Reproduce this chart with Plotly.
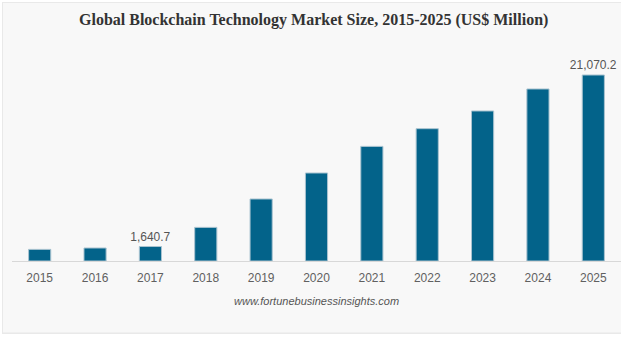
import plotly.graph_objects as go

years = ["2015", "2016", "2017", "2018", "2019", "2020", "2021", "2022", "2023", "2024", "2025"]
market_size = [1315, 1473, 1640.7, 3807, 7025, 9970, 12985, 14990, 16995, 19488, 21070.2]
labels = ["", "", "1,640.7", "", "", "", "", "", "", "", "21,070.2"]

W, H = 621, 337
ML, MR, MT, MB = 12, 0, 60, 76
PW, PH = W - ML - MR, H - MT - MB

def px_x(p):
    return (p - ML) / PW

def px_y(p):
    return (H - MB - p) / PH

fig = go.Figure()
fig.add_trace(go.Bar(
    x=years, y=market_size,
    marker=dict(color="#03638a", line=dict(color="#a9c3d0", width=1)),
    text=labels, textposition="outside", constraintext="none",
    textfont=dict(family="Liberation Sans, Arial", size=12, color="#555555"),
    cliponaxis=False, hoverinfo="x+y",
))

shapes = [
    dict(type="rect", xref="paper", yref="paper",
         x0=px_x(2), x1=px_x(640), y0=px_y(334), y1=px_y(2),
         fillcolor="#e9e9e9", line=dict(width=0), layer="below"),
    dict(type="rect", xref="paper", yref="paper",
         x0=px_x(3), x1=px_x(640), y0=px_y(332.5), y1=px_y(3),
         fillcolor="#f8f8f8", line=dict(width=0), layer="below"),
]

fig.update_layout(
    width=W, height=H,
    margin=dict(l=ML, r=MR, t=MT, b=MB),
    paper_bgcolor="#ffffff", plot_bgcolor="rgba(0,0,0,0)",
    bargap=0.6, showlegend=False,
    shapes=shapes,
    xaxis=dict(showline=True, linecolor="#d8d8d8", linewidth=1, showgrid=False,
               ticks="outside", ticklen=6, tickcolor="rgba(0,0,0,0)",
               tickfont=dict(family="Liberation Sans, Arial", size=12, color="#606060")),
    yaxis=dict(range=[0, 22770], visible=False, showgrid=False),
    annotations=[
        dict(text="<b>Global Blockchain Technology Market Size, 2015-2025 (US$ Million)</b>",
             xref="paper", yref="paper", x=px_x(313), y=px_y(20), xanchor="center", yanchor="middle",
             showarrow=False, font=dict(family="Liberation Serif, Times New Roman", size=16, color="#333333")),
        dict(text="<i>www.fortunebusinessinsights.com</i>",
             xref="paper", yref="paper", x=px_x(316), y=px_y(301), xanchor="center", yanchor="middle",
             showarrow=False, font=dict(family="Liberation Sans, Arial", size=11, color="#555555")),
    ],
)

fig.write_html("out.html")
